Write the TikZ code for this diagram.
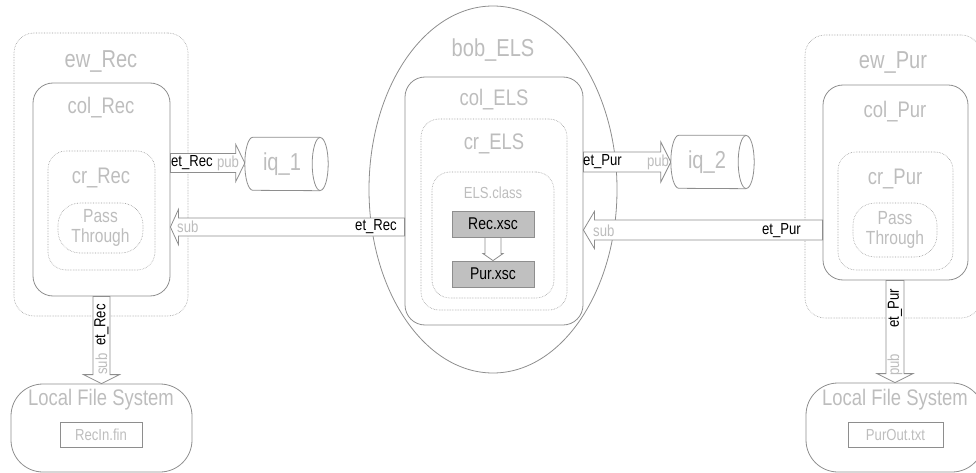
\documentclass[tikz,border=0pt]{standalone}
\usepackage{fontspec}
\usepackage{graphicx}
\setmainfont{Liberation Sans}
\usetikzlibrary{shapes.geometric,calc}
\definecolor{txtgray}{HTML}{BDBDBD}
\definecolor{linegray}{HTML}{8E8E8E}
\definecolor{dotgray}{HTML}{9A9A9A}
\definecolor{boxfill}{HTML}{C0C0C0}
\newcommand\nar[1]{\scalebox{0.82}[1]{#1}}
\tikzset{
  solidbox/.style={draw=linegray, line width=0.8pt, rectangle, rounded corners=#1, inner sep=0pt},
  solidbox/.default=20pt,
  dotbox/.style={draw=dotgray, line width=0.6pt, densely dotted, rectangle, rounded corners=#1, inner sep=0pt},
  dotbox/.default=18pt,
  bigtitle/.style={text=txtgray, inner sep=0pt, font=\fontsize{24.5}{26}\selectfont},
  midtitle/.style={text=txtgray, inner sep=0pt, font=\fontsize{22.5}{24}\selectfont},
  smalltxt/.style={text=txtgray, inner sep=0pt, font=\fontsize{16}{18}\selectfont},
  lblblack/.style={text=black, inner sep=0pt, font=\fontsize{16}{18}\selectfont},
  lblgray/.style={text=txtgray, inner sep=0pt, font=\fontsize{16}{18}\selectfont},
  harr/.style={draw=linegray, line width=0.8pt, fill=white, line join=miter},
  qline/.style={draw=linegray, line width=0.8pt},
  qbox/.style={minimum width=83pt, minimum height=53pt, inner sep=0pt},
  xscbox/.style={draw=linegray, line width=0.8pt, fill=boxfill, minimum width=82pt, minimum height=26pt, inner sep=0pt, font=\fontsize{17}{18}\selectfont},
  filebox/.style={draw=linegray, line width=0.8pt, minimum height=25pt, inner sep=0pt, text=txtgray, font=\fontsize{16}{18}\selectfont},
  passbox/.style={dotbox=22pt, text=txtgray, font=\fontsize{19}{20}\selectfont}
}
% hollow block arrows: start, tip (coordinate names), body half width, head half width, head length
\newcommand\harrR[5]{\draw[harr] ([yshift=#3]#1) -- ([xshift=-#5,yshift=#3]#2) -- ([xshift=-#5,yshift=#4]#2) -- (#2) -- ([xshift=-#5,yshift=-#4]#2) -- ([xshift=-#5,yshift=-#3]#2) -- ([yshift=-#3]#1) -- cycle;}
\newcommand\harrL[5]{\draw[harr] ([yshift=#3]#1) -- ([xshift=#5,yshift=#3]#2) -- ([xshift=#5,yshift=#4]#2) -- (#2) -- ([xshift=#5,yshift=-#4]#2) -- ([xshift=#5,yshift=-#3]#2) -- ([yshift=-#3]#1) -- cycle;}
\newcommand\harrD[5]{\draw[harr] ([xshift=-#3]#1) -- ([xshift=-#3,yshift=#5]#2) -- ([xshift=-#4,yshift=#5]#2) -- (#2) -- ([xshift=#4,yshift=#5]#2) -- ([xshift=#3,yshift=#5]#2) -- ([xshift=#3]#1) -- cycle;}
% horizontal queue cylinder drawn round a named node
\newcommand\queueshape[1]{%
  \draw[qline] ([xshift=-8pt]#1.north east) -- ([xshift=8pt]#1.north west)
     arc[start angle=90, end angle=270, x radius=8pt, y radius=26.5pt] -- ([xshift=-8pt]#1.south east);
  \draw[qline] ([xshift=-8pt]#1.east) ellipse [x radius=8pt, y radius=26.5pt];}
\begin{document}
\begin{tikzpicture}[x=1pt,y=-1pt]
\useasboundingbox (0,0) rectangle (976,473);
\clip (0,0) rectangle (976,473);

% ---------------- left: ew_Rec ----------------
\node[dotbox=20pt, minimum width=174pt, minimum height=283pt] (ewRec) at (101,174.5) {};
\node[bigtitle] (ewRecT) at (101,62) {\nar{ew\_Rec}};
\node[solidbox=20pt, minimum width=137pt, minimum height=213pt] (colRec) at (101.5,189.5) {};
\node[midtitle] (colRecT) at (101,108) {\nar{col\_Rec}};
\node[dotbox=18pt, minimum width=107pt, minimum height=119pt] (crRec) at (101.5,210.5) {};
\node[midtitle] (crRecT) at (101,178) {\nar{cr\_Rec}};
\node[passbox, minimum width=85pt, minimum height=50pt] (ptRec) at (100.5,228)
   {\nar{\begin{tabular}{@{}c@{}}Pass\\Through\end{tabular}}};

% ---------------- middle: bob_ELS ----------------
\node[ellipse, draw=linegray, line width=0.8pt, minimum width=248pt, minimum height=367pt, inner sep=0pt] (bob) at (493,189.5) {};
\node[bigtitle] (bobT) at (493,50) {\nar{bob\_ELS}};
\node[solidbox=20pt, minimum width=178pt, minimum height=248pt] (colELS) at (494,201) {};
\node[midtitle] (colELST) at (494,100) {\nar{col\_ELS}};
\node[dotbox=18pt, minimum width=146pt, minimum height=191pt] (crELS) at (494,214.5) {};
\node[midtitle] (crELST) at (494,144) {\nar{cr\_ELS}};
\node[dotbox=18pt, minimum width=122pt, minimum height=126pt] (clsELS) at (493,235) {};
\node[smalltxt] (clsELST) at (493,193) {\nar{ELS.class}};
\node[xscbox] (recX) at (493,224) {\nar{Rec.xsc}};
\node[xscbox] (purX) at (493,274) {\nar{Pur.xsc}};

% ---------------- right: ew_Pur ----------------
\node[dotbox=20pt, minimum width=176pt, minimum height=283pt] (ewPur) at (893,176.5) {};
\node[bigtitle] (ewPurT) at (893,63) {\nar{ew\_Pur}};
\node[solidbox=20pt, minimum width=145pt, minimum height=195pt] (colPur) at (895.5,182.5) {};
\node[midtitle] (colPurT) at (895,112) {\nar{col\_Pur}};
\node[dotbox=18pt, minimum width=115pt, minimum height=118pt] (crPur) at (895.5,211) {};
\node[midtitle] (crPurT) at (895,179) {\nar{cr\_Pur}};
\node[passbox, minimum width=84pt, minimum height=54pt] (ptPur) at (895,230)
   {\nar{\begin{tabular}{@{}c@{}}Pass\\Through\end{tabular}}};

% ---------------- queues ----------------
\node[qbox] (iq1) at (286.5,164) {};
\queueshape{iq1}
\node[bigtitle] (iq1T) at (282,164) {\nar{iq\_1}};
\node[qbox] (iq2) at (712.5,162) {};
\queueshape{iq2}
\node[bigtitle] (iq2T) at (707,162) {\nar{iq\_2}};

% ---------------- local file systems ----------------
\node[solidbox=32pt, minimum width=181pt, minimum height=88pt] (lfsRec) at (101.5,428) {};
\node[midtitle] (lfsRecT) at (101,400) {\nar{Local File System}};
\node[filebox, minimum width=82pt] (recIn) at (101,434.5) {\nar{RecIn.fin}};
\node[solidbox=32pt, minimum width=178pt, minimum height=89pt] (lfsPur) at (895,427.5) {};
\node[midtitle] (lfsPurT) at (895,400) {\nar{Local File System}};
\node[filebox, minimum width=95pt] (purOut) at (895.5,434.5) {\nar{PurOut.txt}};

% ---------------- arrow end points ----------------
\coordinate (yPubR) at (0,163);
\coordinate (ySubR) at (0,227);
\coordinate (yPubP) at (0,162);
\coordinate (ySubP) at (0,230);
\coordinate (xDownP) at (895,0);
\coordinate (a1s) at (colRec.east |- yPubR);
\coordinate (a1e) at (iq1.west |- yPubR);
\coordinate (a2s) at (colELS.west |- ySubR);
\coordinate (a2e) at (colRec.east |- ySubR);
\coordinate (a3s) at (colELS.east |- yPubP);
\coordinate (a3e) at (iq2.west |- yPubP);
\coordinate (a4s) at (colPur.west |- ySubP);
\coordinate (a4e) at (colELS.east |- ySubP);
\coordinate (a6s) at (colPur.south -| xDownP);
\coordinate (a6e) at (lfsPur.north -| xDownP);

% pub et_Rec -> iq_1
\harrR{a1s}{a1e}{9.5pt}{18.5pt}{9pt}
\node[lblblack, anchor=west] (l1a) at (171,163) {\nar{et\_Rec}};
\node[lblgray] (l1b) at (228,163) {\nar{pub}};

% sub et_Rec : bob_ELS -> col_Rec
\harrL{a2s}{a2e}{9pt}{17.5pt}{8pt}
\node[lblgray, anchor=west] (l2a) at (177,227) {\nar{sub}};
\node[lblblack, anchor=east] (l2b) at (397,227) {\nar{et\_Rec}};

% pub et_Pur -> iq_2
\harrR{a3s}{a3e}{10pt}{20pt}{10pt}
\node[lblblack, anchor=west] (l3a) at (583,162) {\nar{et\_Pur}};
\node[lblgray] (l3b) at (658,162) {\nar{pub}};

% sub et_Pur : col_Pur -> col_ELS
\harrL{a4s}{a4e}{10pt}{18.5pt}{11pt}
\node[lblgray, anchor=west] (l4a) at (593,231) {\nar{sub}};
\node[lblblack, anchor=east] (l4b) at (801,231) {\nar{et\_Pur}};

% Rec.xsc -> Pur.xsc
\harrD{recX.south}{purX.north}{8pt}{10pt}{7pt}

% col_Rec -> Local File System
\harrD{colRec.south}{lfsRec.north}{8.5pt}{18pt}{9pt}
\node[lblblack, rotate=90] (l5a) at (101.5,325) {\nar{et\_Rec}};
\node[lblgray, rotate=90] (l5b) at (101.5,364) {\nar{sub}};

% col_Pur -> Local File System
\harrD{a6s}{a6e}{9pt}{18pt}{9pt}
\node[lblblack, rotate=90] (l6a) at (895,308) {\nar{et\_Pur}};
\node[lblgray, rotate=90] (l6b) at (895,365) {\nar{pub}};
\end{tikzpicture}
\end{document}
